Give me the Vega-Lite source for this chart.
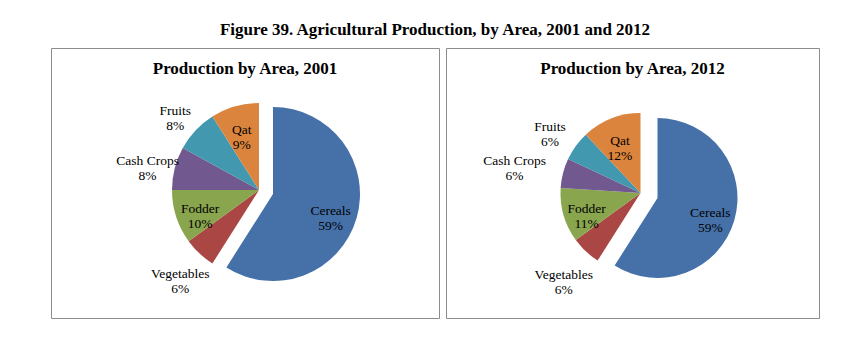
{
  "$schema": "https://vega.github.io/schema/vega-lite/v6.json",
  "background": "white",
  "padding": {"left": 50, "top": 20, "right": 0, "bottom": 0},
  "title": {"text": "Figure 39. Agricultural Production, by Area, 2001 and 2012", "font": "Liberation Serif", "fontSize": 17, "fontWeight": "bold", "color": "black", "anchor": "middle", "offset": 9},
  "datasets": {
    "d2001": [
      {"idx": 1, "cat": "Cereals", "pct": 59},
      {"idx": 2, "cat": "Vegetables", "pct": 6},
      {"idx": 3, "cat": "Fodder", "pct": 10},
      {"idx": 4, "cat": "Cash Crops", "pct": 8},
      {"idx": 5, "cat": "Fruits", "pct": 8},
      {"idx": 6, "cat": "Qat", "pct": 9}
    ],
    "d2012": [
      {"idx": 1, "cat": "Cereals", "pct": 59},
      {"idx": 2, "cat": "Vegetables", "pct": 6},
      {"idx": 3, "cat": "Fodder", "pct": 11},
      {"idx": 4, "cat": "Cash Crops", "pct": 6},
      {"idx": 5, "cat": "Fruits", "pct": 6},
      {"idx": 6, "cat": "Qat", "pct": 12}
    ]
  },
  "hconcat": [
    {
      "width": 388, "height": 270,
      "view": {"stroke": "#8c8c8c", "strokeWidth": 1},
      "data": {"name": "d2001"},
      "transform": [{"calculate": "[datum.cat, datum.pct + '%']", "as": "label"}],
      "title": {"text": "Production by Area, 2001", "font": "Liberation Serif", "fontSize": 17, "fontWeight": "bold", "color": "black", "offset": -30, "anchor": "middle"},
      "encoding": {
        "theta": {"field": "pct", "type": "quantitative", "stack": true},
        "order": {"field": "idx", "type": "quantitative"}
      },
      "layer": [
        {
          "mark": {"type": "arc", "outerRadius": 87, "xOffset": 14, "yOffset": 7},
          "encoding": {
            "color": {"field": "cat", "type": "nominal", "legend": null, "scale": {"domain": ["Cereals", "Vegetables", "Fodder", "Cash Crops", "Fruits", "Qat"], "range": ["#4671A8", "#AA4643", "#89A54E", "#71588F", "#4198AF", "#DB843D"]}},
            "opacity": {"condition": {"test": "datum.cat === 'Cereals'", "value": 0}, "value": 1}
          }
        },
        {
          "mark": {"type": "arc", "outerRadius": 87, "xOffset": 28, "yOffset": 11},
          "encoding": {
            "color": {"field": "cat", "type": "nominal", "legend": null},
            "opacity": {"condition": {"test": "datum.cat === 'Cereals'", "value": 1}, "value": 0}
          }
        },
        {
          "mark": {"type": "text", "radius": 62, "xOffset": 14, "yOffset": 7, "font": "Liberation Serif", "fontSize": 13.5, "lineHeight": 15, "color": "black"},
          "encoding": {
            "text": {"field": "label"},
            "opacity": {"condition": {"test": "datum.cat === 'Qat' || datum.cat === 'Fodder'", "value": 1}, "value": 0}
          }
        },
        {
          "mark": {"type": "text", "radius": 60, "xOffset": 28, "yOffset": 11, "font": "Liberation Serif", "fontSize": 13.5, "lineHeight": 15, "color": "black"},
          "encoding": {
            "text": {"field": "label"},
            "opacity": {"condition": {"test": "datum.cat === 'Cereals'", "value": 1}, "value": 0}
          }
        },
        {
          "mark": {"type": "text", "radius": 115, "xOffset": 14, "yOffset": 7, "font": "Liberation Serif", "fontSize": 13.5, "lineHeight": 15, "color": "black"},
          "encoding": {
            "text": {"field": "label"},
            "opacity": {"condition": {"test": "datum.cat === 'Fruits' || datum.cat === 'Cash Crops' || datum.cat === 'Vegetables'", "value": 1}, "value": 0}
          }
        }
      ]
    },
    {
      "width": 373, "height": 270,
      "view": {"stroke": "#8c8c8c", "strokeWidth": 1},
      "data": {"name": "d2012"},
      "transform": [{"calculate": "[datum.cat, datum.pct + '%']", "as": "label"}],
      "title": {"text": "Production by Area, 2012", "font": "Liberation Serif", "fontSize": 17, "fontWeight": "bold", "color": "black", "offset": -30, "anchor": "middle"},
      "encoding": {
        "theta": {"field": "pct", "type": "quantitative", "stack": true},
        "order": {"field": "idx", "type": "quantitative"}
      },
      "layer": [
        {
          "mark": {"type": "arc", "outerRadius": 80, "xOffset": 8, "yOffset": 10},
          "encoding": {
            "color": {"field": "cat", "type": "nominal", "legend": null, "scale": {"domain": ["Cereals", "Vegetables", "Fodder", "Cash Crops", "Fruits", "Qat"], "range": ["#4671A8", "#AA4643", "#89A54E", "#71588F", "#4198AF", "#DB843D"]}},
            "opacity": {"condition": {"test": "datum.cat === 'Cereals'", "value": 0}, "value": 1}
          }
        },
        {
          "mark": {"type": "arc", "outerRadius": 80, "xOffset": 25, "yOffset": 15},
          "encoding": {
            "color": {"field": "cat", "type": "nominal", "legend": null},
            "opacity": {"condition": {"test": "datum.cat === 'Cereals'", "value": 1}, "value": 0}
          }
        },
        {
          "mark": {"type": "text", "radius": 56, "xOffset": 8, "yOffset": 10, "font": "Liberation Serif", "fontSize": 13.5, "lineHeight": 15, "color": "black"},
          "encoding": {
            "text": {"field": "label"},
            "opacity": {"condition": {"test": "datum.cat === 'Qat' || datum.cat === 'Fodder'", "value": 1}, "value": 0}
          }
        },
        {
          "mark": {"type": "text", "radius": 55, "xOffset": 25, "yOffset": 15, "font": "Liberation Serif", "fontSize": 13.5, "lineHeight": 15, "color": "black"},
          "encoding": {
            "text": {"field": "label"},
            "opacity": {"condition": {"test": "datum.cat === 'Cereals'", "value": 1}, "value": 0}
          }
        },
        {
          "mark": {"type": "text", "radius": 112, "xOffset": 8, "yOffset": 10, "font": "Liberation Serif", "fontSize": 13.5, "lineHeight": 15, "color": "black"},
          "encoding": {
            "text": {"field": "label"},
            "opacity": {"condition": {"test": "datum.cat === 'Fruits' || datum.cat === 'Vegetables'", "value": 1}, "value": 0}
          }
        },
        {
          "mark": {"type": "text", "radius": 130, "xOffset": 8, "yOffset": 10, "font": "Liberation Serif", "fontSize": 13.5, "lineHeight": 15, "color": "black"},
          "encoding": {
            "text": {"field": "label"},
            "opacity": {"condition": {"test": "datum.cat === 'Cash Crops'", "value": 1}, "value": 0}
          }
        }
      ]
    }
  ],
  "spacing": 5,
  "config": {
    "view": {"stroke": "#8c8c8c", "strokeWidth": 1},
    "font": "Liberation Serif"
  }
}
